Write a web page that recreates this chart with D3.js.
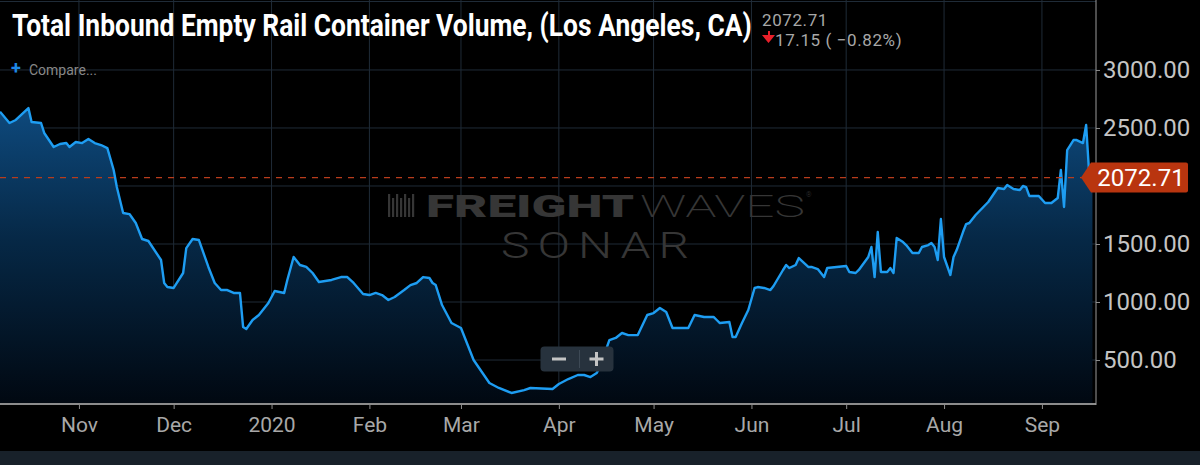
<!DOCTYPE html>
<html lang="en">
<head>
    <meta charset="UTF-8">
    <title>Total Inbound Empty Rail Container Volume, (Los Angeles, CA)</title>
    <script src="https://d3js.org/d3.v7.min.js"></script>
    <style>
        body { margin: 0; overflow: hidden; background: #000; font-family: Roboto, "Noto Sans", sans-serif; }
        .grid line { stroke: #1f2b37; stroke-width: 1px; }
        .x-axis text { font: 21px Roboto, sans-serif; fill: #a8a8a8; }
        .y-axis text { font: 24px Roboto, sans-serif; fill: #c4c4c4; }
        .x-axis line, .y-axis line { stroke: #8c8c8c; }
        .line { fill: none; stroke: #1e9df2; stroke-width: 2.4px; stroke-linejoin: round; }
    </style>
</head>
<body>
    <svg id="chart"></svg>
    <script>
        const width = 1200;
        const height = 465;

        const dates = [
            "2019-10-07","2019-10-10","2019-10-12","2019-10-16","2019-10-17","2019-10-20","2019-10-21","2019-10-24",
            "2019-10-26","2019-10-28","2019-10-29","2019-10-31","2019-11-02","2019-11-04","2019-11-06","2019-11-08",
            "2019-11-10","2019-11-12","2019-11-13","2019-11-15","2019-11-17","2019-11-19","2019-11-21","2019-11-23",
            "2019-11-27","2019-11-28","2019-11-29","2019-12-01","2019-12-04","2019-12-05","2019-12-07","2019-12-09",
            "2019-12-12","2019-12-14","2019-12-16","2019-12-18","2019-12-20","2019-12-22","2019-12-23","2019-12-24",
            "2019-12-26","2019-12-28","2019-12-31","2020-01-02","2020-01-05","2020-01-06","2020-01-08","2020-01-10",
            "2020-01-12","2020-01-14","2020-01-16","2020-01-20","2020-01-23","2020-01-25","2020-01-27","2020-01-30",
            "2020-02-01","2020-02-03","2020-02-05","2020-02-07","2020-02-09","2020-02-12","2020-02-14","2020-02-16",
            "2020-02-18","2020-02-20","2020-02-21","2020-02-22","2020-02-24","2020-02-27","2020-03-01","2020-03-05",
            "2020-03-10","2020-03-13","2020-03-17","2020-03-21","2020-03-23","2020-03-30","2020-04-01","2020-04-04",
            "2020-04-07","2020-04-09","2020-04-11","2020-04-13","2020-04-14","2020-04-17","2020-04-19","2020-04-21",
            "2020-04-23","2020-04-26","2020-04-29","2020-05-01","2020-05-03","2020-05-05","2020-05-07","2020-05-08",
            "2020-05-12","2020-05-14","2020-05-17","2020-05-20","2020-05-21","2020-05-22","2020-05-25","2020-05-26",
            "2020-05-27","2020-05-29","2020-05-31","2020-06-02","2020-06-03","2020-06-05","2020-06-07","2020-06-08",
            "2020-06-11","2020-06-12","2020-06-13","2020-06-15","2020-06-16","2020-06-19","2020-06-20","2020-06-22",
            "2020-06-24","2020-06-25","2020-06-28","2020-07-01","2020-07-02","2020-07-04","2020-07-05","2020-07-08",
            "2020-07-09","2020-07-10","2020-07-11","2020-07-12","2020-07-14","2020-07-15","2020-07-16","2020-07-17",
            "2020-07-19","2020-07-20","2020-07-22","2020-07-24","2020-07-25","2020-07-27","2020-07-28","2020-07-29",
            "2020-07-30","2020-07-31","2020-08-01","2020-08-03","2020-08-04","2020-08-05","2020-08-07","2020-08-08",
            "2020-08-09","2020-08-11","2020-08-15","2020-08-18","2020-08-20","2020-08-21","2020-08-23","2020-08-25",
            "2020-08-26","2020-08-27","2020-08-28","2020-08-31","2020-09-02","2020-09-04","2020-09-06","2020-09-07",
            "2020-09-08","2020-09-09","2020-09-11","2020-09-12","2020-09-14","2020-09-15","2020-09-16","2020-09-17"
        ];
        const values = [
            2640, 2543, 2569, 2672, 2552, 2543, 2457, 2336,
            2362, 2370, 2336, 2379, 2370, 2405, 2370, 2353,
            2327, 2138, 1991, 1767, 1758, 1681, 1543, 1526,
            1362, 1164, 1129, 1121, 1250, 1465, 1543, 1534,
            1302, 1164, 1103, 1103, 1078, 1078, 784, 767,
            845, 888, 991, 1095, 1078, 1190, 1388, 1319,
            1302, 1250, 1172, 1190, 1215, 1215, 1164, 1069,
            1060, 1078, 1060, 1017, 1043, 1103, 1146, 1164,
            1215, 1207, 1164, 1146, 974, 819, 776, 500,
            302, 259, 216, 241, 259, 250, 293, 336,
            371, 371, 353, 388, 440, 672, 690, 733,
            715, 715, 888, 905, 948, 914, 776, 776,
            776, 888, 871, 871, 845, 819, 828, 698,
            698, 819, 931, 1121, 1129, 1121, 1103, 1138,
            1276, 1319, 1293, 1319, 1379, 1302, 1302, 1284,
            1215, 1293, 1302, 1310, 1259, 1250, 1276, 1388,
            1474, 1215, 1603, 1259, 1259, 1293, 1250, 1552,
            1517, 1491, 1422, 1422, 1474, 1491, 1509, 1474,
            1362, 1715, 1388, 1233, 1388, 1448, 1603, 1672,
            1681, 1750, 1862, 1983, 1974, 2008, 1974, 1965,
            2000, 1991, 1914, 1914, 1853, 1853, 1896, 2138,
            1819, 2310, 2396, 2396, 2370, 2526, 2089.86, 2072.71
        ];

        const tickDates = ["2019-11-01","2019-12-01","2020-01-01","2020-02-01","2020-03-01","2020-04-01",
                           "2020-05-01","2020-06-01","2020-07-01","2020-08-01","2020-09-01"];
        const tickLabels = ["Nov","Dec","2020","Feb","Mar","Apr","May","Jun","Jul","Aug","Sep"];
        const yTicks = [500, 1000, 1500, 2000, 2500, 3000];

        const lastValue = 2072.71;
        const change = -17.15;
        const changePct = -0.82;

        const parse = d3.timeParse("%Y-%m-%d");
        const data = dates.map((d, i) => ({ date: parse(d), value: values[i] }));
        const ticks = tickDates.map(parse);

        const plotRight = 1096, plotBottom = 404;

        const svg = d3.select("#chart")
            .attr("width", width)
            .attr("height", height);

        svg.append("rect").attr("width", width).attr("height", height).attr("fill", "#000");

        const x = d3.scaleTime()
            .domain([new Date(2019, 9, 7), new Date(2020, 8, 18, 3)])
            .range([0, plotRight]);

        const y = d3.scaleLinear()
            .domain([121, 3603])
            .range([plotBottom, 0]);

        const defs = svg.append("defs");
        const grad = defs.append("linearGradient")
            .attr("id", "areaGrad")
            .attr("gradientUnits", "userSpaceOnUse")
            .attr("x1", 0).attr("x2", 0)
            .attr("y1", y(2700)).attr("y2", plotBottom);
        grad.append("stop").attr("offset", "0%").attr("stop-color", "#0e4a7e");
        grad.append("stop").attr("offset", "45%").attr("stop-color", "#062846");
        grad.append("stop").attr("offset", "100%").attr("stop-color", "#010811");

        defs.append("clipPath").attr("id", "plotClip")
            .append("rect").attr("width", plotRight).attr("height", plotBottom);

        // grid
        const grid = svg.append("g").attr("class", "grid");
        grid.selectAll(".v").data(ticks).enter().append("line")
            .attr("x1", d => x(d)).attr("x2", d => x(d))
            .attr("y1", 0).attr("y2", plotBottom);
        grid.selectAll(".h").data(yTicks).enter().append("line")
            .attr("x1", 0).attr("x2", plotRight)
            .attr("y1", d => y(d)).attr("y2", d => y(d));
        grid.append("line").attr("x1", 0).attr("x2", plotRight).attr("y1", 1.5).attr("y2", 1.5);

        // watermark
        const wm = svg.append("g").attr("fill", "#363636");
        const barsX = d3.range(0, 7);
        wm.selectAll(".bar").data(barsX).enter().append("rect")
            .attr("x", d => 388 + d * 4)
            .attr("y", d => (d % 2 ? 198 : 194))
            .attr("width", 2.2)
            .attr("height", d => (d % 2 ? 19 : 23));
        wm.append("text").attr("x", 426).attr("y", 217)
            .attr("textLength", 208).attr("lengthAdjust", "spacingAndGlyphs")
            .style("font", "900 32px Roboto, sans-serif").text("FREIGHT");
        wm.append("text").attr("x", 640).attr("y", 217)
            .attr("textLength", 165).attr("lengthAdjust", "spacingAndGlyphs")
            .style("font", "200 32px Roboto, sans-serif").text("WAVES");
        wm.append("text").attr("x", 806).attr("y", 197)
            .style("font", "300 7px Roboto, sans-serif").text("®");
        wm.append("text").attr("x", 501).attr("y", 258)
            .attr("textLength", 196).attr("lengthAdjust", "spacingAndGlyphs")
            .style("font", "300 36px Roboto, sans-serif")
            .style("letter-spacing", "6px")
            .text("SONAR");

        // area + line
        const plot = svg.append("g").attr("clip-path", "url(#plotClip)");
        plot.append("path")
            .datum(data)
            .attr("fill", "url(#areaGrad)")
            .attr("d", d3.area().x(d => x(d.date)).y0(plotBottom).y1(d => y(d.value)));
        plot.append("path")
            .datum(data)
            .attr("class", "line")
            .attr("d", d3.line().x(d => x(d.date)).y(d => y(d.value)));

        // last value dashed line
        svg.append("line")
            .attr("x1", 0).attr("x2", plotRight)
            .attr("y1", y(lastValue)).attr("y2", y(lastValue))
            .attr("stroke", "#b83c1c").attr("stroke-width", 1.2)
            .attr("stroke-dasharray", "6,6");

        // axes
        const xAxis = d3.axisBottom(x)
            .tickValues(ticks)
            .tickFormat((d, i) => tickLabels[i])
            .tickSize(5)
            .tickPadding(8);
        svg.append("g").attr("class", "x-axis")
            .attr("transform", `translate(0,${plotBottom})`)
            .call(xAxis)
            .call(g => g.select(".domain").remove());
        svg.append("line")
            .attr("x1", 0).attr("x2", plotRight)
            .attr("y1", plotBottom).attr("y2", plotBottom)
            .attr("stroke", "#8c8c8c").attr("stroke-width", 2);

        // the last-value label hides any tick label it sits on
        const ly = y(lastValue);
        const yAxis = d3.axisRight(y)
            .tickValues(yTicks.filter(v => Math.abs(y(v) - ly) > 24))
            .tickFormat(d3.format(".2f"))
            .tickSize(4)
            .tickPadding(3);
        svg.append("g").attr("class", "y-axis")
            .attr("transform", `translate(${plotRight},0)`)
            .call(yAxis)
            .call(g => g.select(".domain").remove());
        svg.append("line")
            .attr("x1", plotRight).attr("x2", plotRight)
            .attr("y1", 0).attr("y2", plotBottom + 1)
            .attr("stroke", "#9a9a9a").attr("stroke-width", 1);

        // last value label
        svg.append("path")
            .attr("d", `M1081,${ly} L1091,${ly - 15} L1186,${ly - 15} Q1188,${ly - 15} 1188,${ly - 13} L1188,${ly + 13} Q1188,${ly + 15} 1186,${ly + 15} L1091,${ly + 15} Z`)
            .attr("fill", "#b9350f");
        svg.append("text")
            .attr("x", 1141).attr("y", ly + 8.5)
            .attr("text-anchor", "middle")
            .style("font", "24px Roboto, sans-serif")
            .attr("fill", "#fff")
            .text(d3.format(".2f")(lastValue));

        // title & header
        svg.append("text")
            .attr("transform", "translate(12,35.5) scale(0.852,1)")
            .style("font", "bold 31px Roboto, sans-serif")
            .attr("fill", "#fff")
            .text("Total Inbound Empty Rail Container Volume, (Los Angeles, CA)");

        svg.append("text")
            .attr("x", 762).attr("y", 26)
            .style("font", "17px Roboto, sans-serif")
            .style("letter-spacing", "0.6px")
            .attr("fill", "#a8a8a8")
            .text(d3.format(".2f")(lastValue));
        svg.append("path")
            .attr("d", "M763,36 L769,36 L769,32 L771,32 L771,36 L776,36 L772,41 L769.5,44 L767,41 Z")
            .attr("transform", "translate(-1,-1)")
            .attr("fill", "#e8202a");
        svg.append("text")
            .attr("x", 775).attr("y", 45.5)
            .style("font", "17px Roboto, sans-serif")
            .style("letter-spacing", "0.6px")
            .attr("fill", "#a8a8a8")
            .text(`${d3.format(".2f")(Math.abs(change))} ( ${d3.format(".2f")(changePct)}%)`);

        svg.append("text")
            .attr("x", 11).attr("y", 74)
            .style("font", "bold 18px Roboto, sans-serif")
            .attr("fill", "#1e88e5")
            .text("+");
        svg.append("text")
            .attr("x", 29).attr("y", 75)
            .style("font", "14px Roboto, sans-serif")
            .attr("fill", "#888")
            .text("Compare...");

        // zoom control
        const zc = svg.append("g");
        zc.append("rect")
            .attr("x", 540.5).attr("y", 346.5).attr("width", 73).attr("height", 25).attr("rx", 4)
            .attr("fill", "#27323d");
        zc.append("line").attr("x1", 579.5).attr("x2", 579.5).attr("y1", 350).attr("y2", 368)
            .attr("stroke", "#3d4955").attr("stroke-width", 1);
        zc.append("rect").attr("x", 552).attr("y", 357.5).attr("width", 14).attr("height", 3).attr("fill", "#c4c4c4");
        zc.append("rect").attr("x", 589.5).attr("y", 357.5).attr("width", 14).attr("height", 3).attr("fill", "#c4c4c4");
        zc.append("rect").attr("x", 595).attr("y", 352).attr("width", 3).attr("height", 14).attr("fill", "#c4c4c4");

        // footer bar
        svg.append("rect").attr("x", 0).attr("y", 451).attr("width", width).attr("height", 14).attr("fill", "#18212a");
    </script>
</body>
</html>
